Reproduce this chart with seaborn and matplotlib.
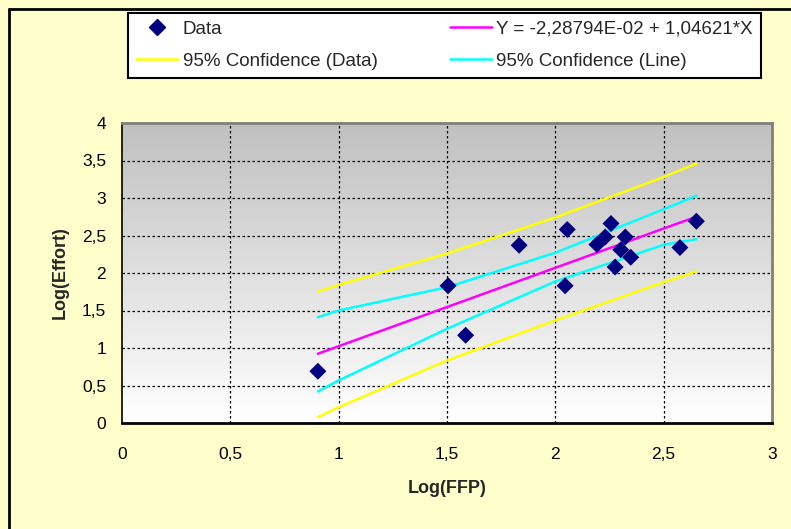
import numpy as np
import seaborn as sns
import matplotlib.pyplot as plt
from matplotlib.colors import LinearSegmentedColormap
from matplotlib.lines import Line2D

# data points
log_ffp = [0.904, 1.505, 1.586, 1.833, 2.055, 2.045, 2.192, 2.230, 2.257,
           2.323, 2.302, 2.348, 2.276, 2.575, 2.651]
log_effort = [0.69, 1.83, 1.17, 2.37, 2.58, 1.83, 2.38, 2.48, 2.66,
              2.48, 2.31, 2.21, 2.08, 2.34, 2.69]

# regression line and confidence bands
band_x = [0.904, 1.0, 1.5, 2.0, 2.5, 2.651]
fit_y = [0.923, 1.024, 1.546, 2.069, 2.593, 2.750]
conf_data_hi = [1.753, 1.84, 2.26, 2.74, 3.28, 3.46]
conf_data_lo = [0.077, 0.21, 0.833, 1.367, 1.877, 2.02]
conf_line_hi = [1.41, 1.50, 1.81, 2.27, 2.85, 3.03]
conf_line_lo = [0.42, 0.567, 1.256, 1.887, 2.376, 2.45]

x_ticks = [0, 0.5, 1, 1.5, 2, 2.5, 3]
x_labels = ['0', '0,5', '1', '1,5', '2', '2,5', '3']
y_ticks = [0, 0.5, 1, 1.5, 2, 2.5, 3, 3.5, 4]
y_labels = ['0', '0,5', '1', '1,5', '2', '2,5', '3', '3,5', '4']

sns.set_style('white')
plt.rcParams['font.family'] = ['Liberation Sans', 'DejaVu Sans']

fig = plt.figure(figsize=(7.91, 5.29), dpi=100, facecolor='#FFFFCC')
ax = fig.add_axes([122 / 791, 1 - 423 / 529, 650 / 791, 300 / 529])

# grey-to-white gradient background
cmap = LinearSegmentedColormap.from_list('bg', ['#FFFFFF', '#C0C0C0'])
grad = np.linspace(0, 1, 256).reshape(-1, 1)
ax.imshow(grad, extent=[0, 3, 0, 4], origin='lower', aspect='auto',
          cmap=cmap, zorder=0)

for v in [0.5, 1, 1.5, 2, 2.5]:
    ax.axvline(v, color='black', lw=0.9, ls=(0, (2, 2)), zorder=1)
for v in [0.5, 1, 1.5, 2, 2.5, 3, 3.5]:
    ax.axhline(v, color='black', lw=0.9, ls=(0, (2, 2)), zorder=1)

sns.lineplot(x=band_x, y=conf_data_hi, color='#FFFF00', lw=1.8, ax=ax, zorder=3)
sns.lineplot(x=band_x, y=conf_data_lo, color='#FFFF00', lw=1.8, ax=ax, zorder=3)
sns.lineplot(x=band_x, y=conf_line_hi, color='#00FFFF', lw=1.8, ax=ax, zorder=3)
sns.lineplot(x=band_x, y=conf_line_lo, color='#00FFFF', lw=1.8, ax=ax, zorder=3)
sns.lineplot(x=band_x, y=fit_y, color='#FF00FF', lw=1.8, ax=ax, zorder=3)
sns.scatterplot(x=log_ffp, y=log_effort, marker='D', color='#000080', s=75,
                edgecolor='none', ax=ax, zorder=4)

ax.set_xlim(0, 3)
ax.set_ylim(0, 4)
ax.set_xticks(x_ticks)
ax.set_xticklabels(x_labels)
ax.set_yticks(y_ticks)
ax.set_yticklabels(y_labels)
ax.tick_params(axis='both', direction='out', length=5, width=1.2,
               labelsize=12.5, colors='black')
ax.tick_params(axis='y', pad=6.5)
ax.tick_params(axis='x', pad=12)

ax.set_xlabel('Log(FFP)', fontsize=13, fontweight='bold', labelpad=13)
ax.set_ylabel('Log(Effort)', fontsize=13, fontweight='bold', labelpad=9.5)

ax.spines['left'].set_color('black')
ax.spines['left'].set_linewidth(1.2)
ax.spines['bottom'].set_color('black')
ax.spines['bottom'].set_linewidth(2)
ax.spines['top'].set_color('#808080')
ax.spines['top'].set_linewidth(2)
ax.spines['right'].set_color('#808080')
ax.spines['right'].set_linewidth(2)

# legend
handles = [
    Line2D([], [], marker='D', color='#000080', ls='none', markersize=8.5),
    Line2D([], [], color='#FFFF00', lw=1.8),
    Line2D([], [], color='#FF00FF', lw=1.8),
    Line2D([], [], color='#00FFFF', lw=1.8),
]
labels = ['Data', '95% Confidence (Data)', 'Y = -2,28794E-02 + 1,04621*X',
          '95% Confidence (Line)']
leg = fig.legend(handles, labels, ncol=2, loc='upper left',
                 bbox_to_anchor=(128 / 791, 1 - 12.7 / 529),
                 fontsize=13.5, frameon=True, fancybox=False,
                 edgecolor='black', framealpha=1, facecolor='white',
                 handlelength=2.25, handletextpad=0.24, columnspacing=3.85,
                 labelspacing=0.8, borderpad=0.42, borderaxespad=0)
leg.get_frame().set_linewidth(1.5)

# outer chart border (left and top)
fig.add_artist(Line2D([9 / 791, 9 / 791], [0, 1 - 9 / 529], color='black', lw=2))
fig.add_artist(Line2D([9 / 791, 1], [1 - 9 / 529, 1 - 9 / 529], color='black', lw=2))

fig.savefig('out.png', dpi=100, facecolor=fig.get_facecolor())
